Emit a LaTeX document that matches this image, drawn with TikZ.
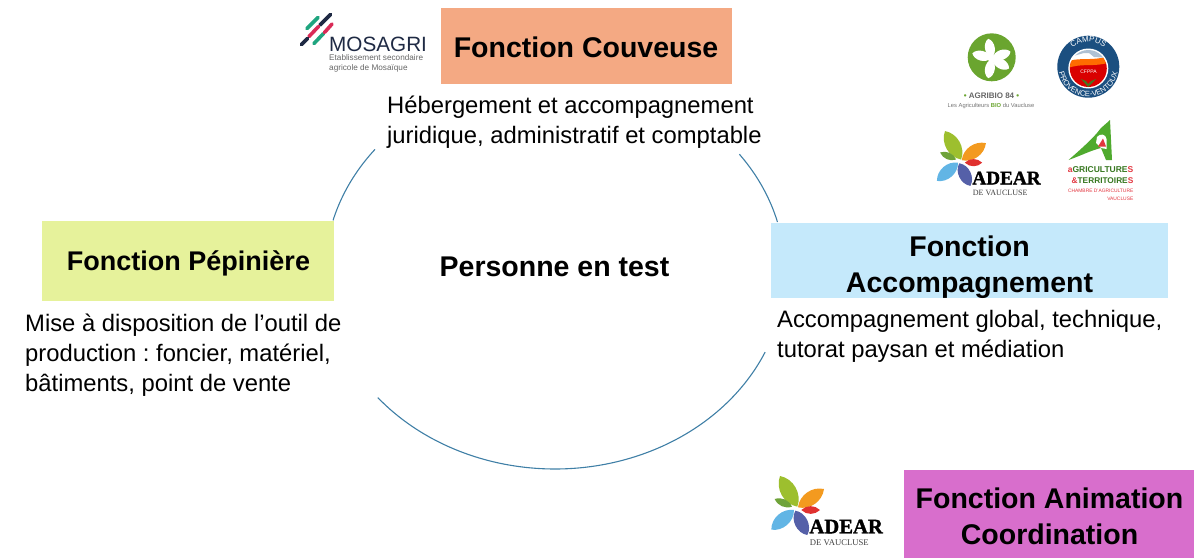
\documentclass[tikz,border=0pt]{standalone}
\usepackage{fontspec}
\setmainfont{Liberation Sans}
\newfontfamily\logoserif[BoldFeatures={FakeBold=1.5}]{Liberation Serif}
\usetikzlibrary{decorations.text}
\frenchspacing
\definecolor{couv}{HTML}{F4A983}
\definecolor{pep}{HTML}{E6F29B}
\definecolor{acc}{HTML}{C5E9FB}
\definecolor{anim}{HTML}{D86ECC}
\definecolor{arcline}{HTML}{3F7FA6}
\definecolor{navy}{HTML}{1F2A44}
\definecolor{agri}{HTML}{6AA52F}
\definecolor{campus}{HTML}{1B4F80}
\definecolor{tealg}{HTML}{1FA57F}
\definecolor{rosem}{HTML}{D92B57}
\definecolor{agred}{HTML}{E2363F}
\definecolor{aggreen}{HTML}{4FAA2E}
\definecolor{leafgreen}{HTML}{9DBF2E}
\definecolor{leaforange}{HTML}{F39A1F}
\definecolor{leafred}{HTML}{E0312F}
\definecolor{leafolive}{HTML}{6FA33A}
\definecolor{leafblue}{HTML}{62B5E5}
\definecolor{leafpurple}{HTML}{5560A8}
\tikzset{
  x=1pt,y=-1pt,
  fn/.style={font=\bfseries\fontsize{28.5}{36}\selectfont,text=black,inner sep=0pt,align=center},
  body/.style={font=\fontsize{23.8}{29.8}\selectfont,text=black,inner sep=0pt,align=left,anchor=west},
  ring/.style={draw=arcline,line width=1.1pt},
}
\newcommand{\leafshape}[4]{\fill[#1] (#2) to[bend left=#4] (#3) to[bend left=#4] cycle;}
\newcommand{\adear}[3]{%
  \begin{scope}[shift={(#1,#2)},scale=#3,transform shape]
    \leafshape{leafgreen}{112,125}{60,33}{50}
    \leafshape{leaforange}{114,127}{192,72}{48}
    \leafshape{leafred}{124,135}{180,135}{45}
    \leafshape{leafolive}{96,125}{44,102}{42}
    \leafshape{leafblue}{102,135}{34,194}{50}
    \leafshape{leafpurple}{106,137}{142,210}{55}
    \node[font=\logoserif\bfseries\fontsize{62}{62}\selectfont,text=black,inner sep=0pt,anchor=base west] at (148,205) {ADEAR};
    \node[font=\logoserif\fontsize{26}{26}\selectfont,text=black!75,inner sep=0pt] at (238,232) {DE VAUCLUSE};
  \end{scope}}
\begin{document}
\begin{tikzpicture}
\useasboundingbox (0,0) rectangle (1194,558);
% boxes
\fill[couv] (441,8) rectangle (732,84);
\fill[pep] (42,221) rectangle (334,301);
\fill[acc] (771,223) rectangle (1168,298);
\fill[anim] (904,470) rectangle (1194,558);
\node[fn] (couveuse) at (586,47.5) {Fonction Couveuse};
\node[fn,font=\bfseries\fontsize{27}{36}\selectfont] (pepiniere) at (188.5,263) {Fonction Pépinière};
\node[fn] (accomp) at (969.5,267) {Fonction\\Accompagnement};
\node[fn] (animation) at (1049.5,516) {Fonction Animation\\Coordination};
\node[fn] (test) at (554.5,267) {Personne en test};
% texts
\node[body] (tcouv) at (387,122) {Hébergement et accompagnement\\juridique, administratif et comptable};
\node[body] (tpep) at (25,355) {Mise à disposition de l’outil de\\production : foncier, matériel,\\bâtiments, point de vente};
\node[body] (tacc) at (777,336) {Accompagnement global, technique,\\tutorat paysan et médiation};
% arcs
\draw[ring] plot[domain=-36.7:-14.7,samples=30,smooth] ({555+230*cos(\x)},{272+197*sin(\x)});
\draw[ring] plot[domain=24:140.4,samples=80,smooth] ({555+230*cos(\x)},{272+197*sin(\x)});
\draw[ring] plot[domain=195.2:218.5,samples=30,smooth] ({555+230*cos(\x)},{272+197*sin(\x)});
% MOSAGRI logo
\begin{scope}[line width=3.6pt,line cap=round]
  \draw[tealg] (307,28.5) -- (318,17.5);
  \draw[navy] (330.5,14.5) -- (320,25);
  \draw[rosem] (318.5,26.5) -- (309,36.5);
  \draw[navy] (307.5,38.5) -- (301.5,44.5);
  \draw[tealg] (314,43.5) -- (323.5,33.5);
  \draw[rosem] (324.5,32.5) -- (332,24);
\end{scope}
\node[font=\fontsize{20.7}{20.7}\selectfont,text=navy,inner sep=0pt,anchor=base west] (mosagri) at (329,51) {MOSAGRI};
\node[font=\fontsize{8.2}{9.4}\selectfont,text=black!60,inner sep=0pt,align=left,anchor=north west] (mosub) at (329,54.5) {Etablissement secondaire\\agricole de Mosaïque};
% AGRIBIO logo
\fill[agri] (991.7,57.3) circle (24);
\begin{scope}[shift={(991.7,58.5)}]
  \foreach \a in {-100,-30,20,100,165}{
    \fill[white,rotate=\a] (1,0) to[bend left=62] (20,0) to[bend left=62] cycle;
  }
  \fill[white] (0,0) circle (4);
\end{scope}
\node[font=\bfseries\fontsize{8}{8}\selectfont,text=black!60,inner sep=0pt] (agribio) at (991.5,95.5) {\textcolor{agri}{•} AGRIBIO 84 \textcolor{agri}{•}};
\node[font=\fontsize{5.8}{6}\selectfont,text=black!55,inner sep=0pt] (agrisub) at (991,105.5) {Les Agriculteurs \textcolor{agri}{\bfseries BIO} du Vaucluse};
% CAMPUS logo
\fill[campus] (1088.3,66.7) circle (31);
\fill[white] (1088.3,68.5) circle (20);
\begin{scope}
  \clip (1088.3,68.5) circle (18.5);
  \fill[red!85!black] (1066,62) rectangle (1110,90);
  \fill[orange!85!red] (1066,63) .. controls (1075,56) and (1090,62) .. (1110,56) -- (1110,62) .. controls (1095,68) and (1080,62) .. (1066,69) -- cycle;
  \fill[campus!35!white] (1066,50) -- (1066,58) -- (1084,53) -- (1089,53) -- (1094,57) -- (1110,58) -- (1110,50) -- cycle;
\end{scope}
\fill[agri!70!black] (1088,87) -- (1081,79) -- (1086,81) -- (1088,84) -- (1091,81) -- (1096,79) -- cycle;
\node[font=\fontsize{5}{5}\selectfont,text=white,inner sep=0pt] (cfppa) at (1088.5,72) {CFPPA};
\path[decorate,decoration={text along path,text align=center,text={|\fontsize{8}{8}\selectfont\color{white}|CAMPUS}}]
  (1063.3,66.7) arc[start angle=180,end angle=360,radius=25];
\path[decorate,decoration={text along path,text align=center,text={|\fontsize{7.6}{7.6}\selectfont\color{white}|PROVENCE-VENTOUX}}]
  (1058.3,66.7) arc[start angle=180,end angle=0,radius=30];
% ADEAR logos
\adear{926.4}{120.8}{0.31}
\adear{760}{465}{0.3333}
% AGRICULTURES logo
\fill[aggreen] (1068.5,160) .. controls (1080,150) and (1090,141) .. (1097,133) .. controls (1101,127) and (1106,124) .. (1110,120) -- (1112,160) -- (1106,160) -- (1101,148) .. controls (1092,150) and (1080,156) .. (1068.5,160) -- cycle;
\fill[white] (1097,137) .. controls (1100,133) and (1106,134) .. (1106.5,139) -- (1106.5,149) -- (1101,148) -- (1096,143) -- cycle;
\fill[agred] (1098,146.5) -- (1103,138.5) -- (1106,146.5) -- cycle;
\node[font=\bfseries\fontsize{8.5}{8.5}\selectfont,text=aggreen!70!black,inner sep=0pt,anchor=base east] (agr1) at (1133.5,172.5) {\textcolor{agred}{a}GRICULTURE\textcolor{agred}{S}};
\node[font=\bfseries\fontsize{8.3}{8.3}\selectfont,text=aggreen!70!black,inner sep=0pt,anchor=base east] (agr2) at (1133.5,183.5) {\textcolor{agred}{\&}TERRITOIRE\textcolor{agred}{S}};
\node[font=\fontsize{4.9}{4.9}\selectfont,text=agred,inner sep=0pt,anchor=base east] (agr3) at (1133.5,192) {CHAMBRE D'AGRICULTURE};
\node[font=\fontsize{4.9}{4.9}\selectfont,text=agred,inner sep=0pt,anchor=base east] (agr4) at (1133.5,200) {VAUCLUSE};
\end{tikzpicture}
\end{document}
